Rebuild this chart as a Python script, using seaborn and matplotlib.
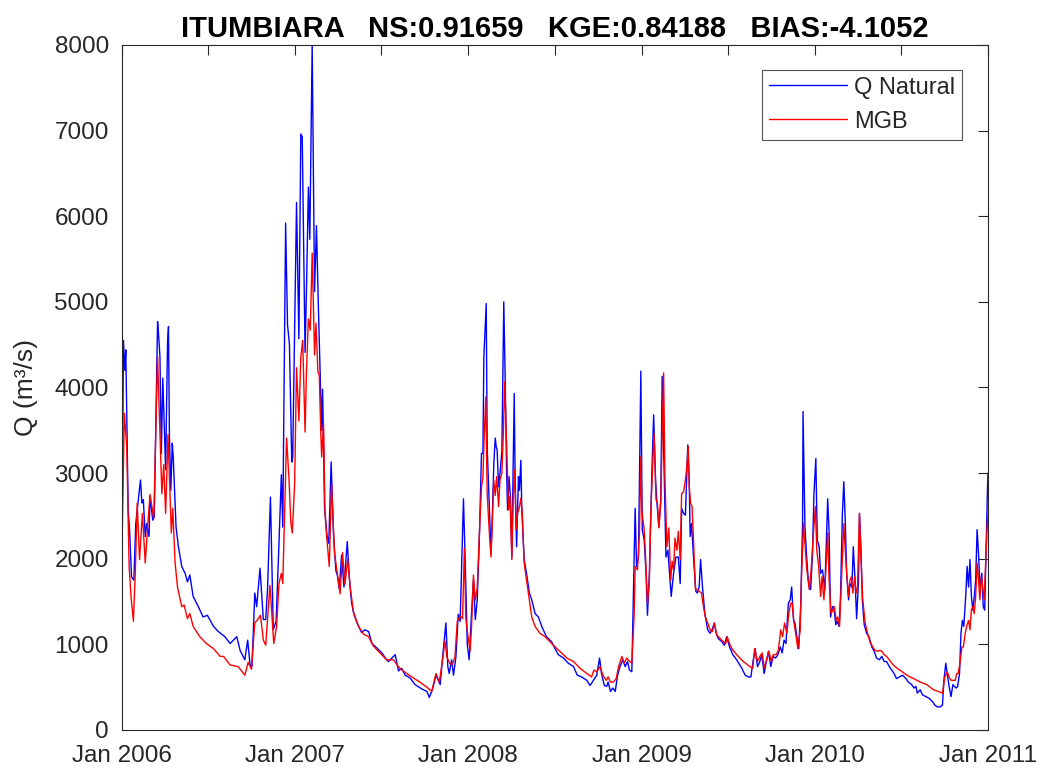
import matplotlib
matplotlib.use("Agg")
import matplotlib.pyplot as plt
import seaborn as sns
import pandas as pd

# ---- data: (day offset from 2006-01-01, discharge m3/s) ----
natural_2006 = [(0, 2140), (3, 4550), (6, 4200), (8, 4440), (13, 2570), (16, 2340), (20, 1790), (25, 1750),
                (29, 2410), (39, 2920), (42, 2650), (45, 2690), (49, 2260), (52, 2410), (57, 2260), (59, 2720),
                (65, 2450), (68, 2490), (75, 4770), (77, 4630), (80, 4360), (83, 3230), (86, 4110), (92, 3040),
                (96, 4520), (98, 4710), (100, 3430), (103, 2800), (106, 3350), (108, 3190), (114, 2370),
                (119, 2140), (126, 1910), (133, 1830), (138, 1730), (143, 1810), (150, 1560), (161, 1440),
                (171, 1320), (180, 1340), (193, 1210), (203, 1150), (217, 1090), (228, 1010), (242, 1090),
                (249, 930), (259, 820), (265, 1050), (270, 760), (274, 740), (280, 1600), (284, 1440),
                (291, 1890), (298, 1290), (303, 1290), (307, 1660), (313, 2720), (319, 1170), (325, 1270),
                (331, 2180), (336, 2980), (339, 2370), (345, 5920), (349, 4730), (353, 4510), (358, 3130),
                (360, 3190)]
natural_2007 = [(368, 6160), (373, 4570), (377, 6960), (380, 6930), (386, 4410), (389, 5150), (393, 6340),
                (396, 5730), (401, 8000), (406, 5120), (410, 5890), (414, 4960), (418, 4140), (421, 3500),
                (423, 3980), (427, 2600), (432, 2280), (436, 2180), (441, 3130), (446, 2280), (451, 1860),
                (454, 1810), (458, 1650), (463, 2040), (468, 1670), (475, 2200), (479, 1810), (484, 1490),
                (489, 1350), (498, 1220), (505, 1140), (512, 1170), (520, 1150), (527, 1010), (537, 960),
                (548, 900), (558, 820), (562, 800), (576, 880), (583, 690), (590, 720), (597, 640),
                (607, 610), (618, 530), (632, 480), (643, 450), (648, 380), (655, 480), (662, 640),
                (671, 530), (676, 850), (683, 1250), (687, 740), (690, 660), (695, 820), (699, 640),
                (704, 850), (709, 1350), (713, 1270), (720, 2700), (724, 1900), (728, 1000)]
natural_2008 = [(732, 820), (737, 1360), (741, 1750), (745, 1290), (749, 1520), (753, 2140), (758, 3230),
                (761, 3230), (763, 4360), (768, 4980), (770, 3310), (775, 2530), (778, 2060), (781, 2530),
                (784, 3110), (787, 3410), (789, 3310), (791, 3270), (794, 2840), (797, 3000), (801, 3250),
                (803, 4090), (805, 5000), (808, 4090), (811, 3000), (813, 2570), (816, 2960), (819, 2730),
                (822, 2020), (827, 3930), (829, 2920), (832, 2140), (836, 2960), (838, 2800), (841, 3150),
                (843, 2570), (848, 1990), (853, 1830), (859, 1600), (864, 1520), (871, 1360), (878, 1320),
                (885, 1210), (895, 1090), (906, 1030), (913, 950), (920, 880), (931, 840), (941, 780),
                (952, 740), (960, 640), (969, 620), (980, 580), (987, 520), (994, 580), (1001, 640),
                (1007, 840), (1011, 660), (1017, 520), (1022, 510), (1025, 560), (1030, 450), (1035, 490),
                (1040, 450), (1045, 640), (1050, 740), (1056, 820), (1061, 740), (1066, 800), (1070, 700),
                (1075, 680), (1078, 1480), (1082, 2590), (1085, 1910), (1089, 2020), (1094, 4190)]
natural_2009 = [(1097, 2340), (1101, 2220), (1105, 1830), (1108, 1340), (1112, 1830), (1117, 2960),
                (1121, 3680), (1125, 2920), (1128, 2650), (1132, 2370), (1136, 2690), (1139, 4130),
                (1143, 3040), (1147, 2020), (1151, 2100), (1154, 1870), (1158, 1560), (1163, 1830),
                (1168, 2020), (1173, 2020), (1177, 1710), (1180, 2590), (1184, 2530), (1188, 2510),
                (1193, 3330), (1196, 2920), (1198, 2260), (1201, 2410), (1205, 2020), (1210, 1620),
                (1213, 1600), (1217, 1670), (1220, 1990), (1224, 1670), (1229, 1360), (1235, 1170),
                (1240, 1130), (1244, 1170), (1249, 1250), (1253, 1130), (1257, 1070), (1265, 1030),
                (1270, 990), (1275, 1090), (1281, 970), (1288, 880), (1296, 820), (1307, 720), (1314, 640),
                (1321, 620), (1326, 620), (1330, 780), (1335, 950), (1340, 740), (1345, 800), (1349, 880),
                (1354, 660), (1358, 780), (1363, 920), (1368, 740), (1373, 860), (1378, 840), (1383, 880),
                (1388, 970), (1392, 900), (1396, 1050), (1400, 1010), (1405, 1480), (1409, 1520),
                (1412, 1670), (1416, 1280), (1419, 1250), (1424, 1050), (1427, 950), (1431, 1440),
                (1435, 2410), (1436, 3720), (1440, 2370), (1444, 1990), (1447, 1750), (1452, 1640),
                (1456, 2060), (1459, 2760)]
natural_2010 = [(1463, 3170), (1466, 2220), (1470, 2140), (1473, 1830), (1477, 1870), (1482, 1640),
                (1488, 2700), (1491, 2300), (1494, 1320), (1498, 1440), (1501, 1440), (1505, 1230),
                (1508, 1270), (1512, 1210), (1515, 1560), (1519, 2530), (1522, 2900), (1525, 2450),
                (1528, 1830), (1532, 1520), (1535, 1710), (1539, 1670), (1542, 2140), (1546, 1710),
                (1549, 1300), (1553, 1750), (1555, 2530), (1558, 2140), (1561, 1520), (1565, 1230),
                (1570, 1130), (1575, 1090), (1581, 970), (1586, 920), (1591, 840), (1597, 820), (1602, 860),
                (1607, 800), (1612, 800), (1618, 740), (1623, 700), (1628, 660), (1633, 600), (1639, 620),
                (1646, 640), (1653, 600), (1658, 560), (1665, 530), (1670, 490), (1674, 510), (1677, 430),
                (1683, 470), (1688, 410), (1695, 390), (1702, 370), (1709, 330), (1714, 290), (1719, 270),
                (1725, 270), (1730, 290), (1733, 580), (1737, 780), (1740, 660), (1744, 510), (1748, 390),
                (1752, 530), (1755, 510), (1759, 490), (1762, 510), (1766, 660), (1769, 1130), (1772, 1280),
                (1775, 1210), (1779, 1560), (1782, 1910), (1785, 1670), (1788, 1990), (1791, 1560),
                (1794, 1400), (1797, 1560), (1800, 1750), (1803, 2340), (1806, 2060), (1809, 1670),
                (1813, 1830), (1816, 1440), (1819, 1400), (1822, 2140), (1825, 2840), (1826, 3000)]

mgb_2006 = [(0, 2140), (5, 3700), (10, 3310), (15, 1910), (19, 1560), (24, 1270), (28, 1830), (32, 2650),
            (37, 1990), (43, 2530), (49, 1950), (54, 2370), (59, 2750), (67, 2470), (75, 4360), (84, 2760),
            (88, 3100), (92, 2530), (97, 3450), (104, 2300), (107, 2590), (112, 1950), (117, 1670),
            (126, 1440), (131, 1460), (138, 1300), (143, 1360), (150, 1210), (164, 1090), (178, 1010),
            (193, 950), (207, 860), (214, 860), (228, 760), (245, 740), (259, 640), (266, 790), (273, 710),
            (280, 1250), (286, 1290), (292, 1340), (298, 1050), (303, 990), (312, 1690), (320, 1010),
            (326, 1210), (331, 1710), (336, 1830), (339, 1710), (347, 3410), (352, 2950), (356, 2420),
            (359, 2300), (364, 2870)]
mgb_2007 = [(368, 4230), (373, 3610), (377, 4350), (381, 4550), (386, 3480), (389, 4190), (393, 4800),
            (397, 4670), (401, 5570), (406, 4380), (409, 4750), (413, 4190), (416, 4140), (419, 3500),
            (421, 3190), (425, 3580), (428, 2550), (432, 2230), (437, 1910), (442, 2870), (448, 2070),
            (454, 1830), (460, 1590), (465, 2070), (470, 1700), (476, 1990), (481, 1670), (488, 1380),
            (498, 1220), (509, 1120), (520, 1090), (530, 980), (544, 900), (558, 820), (572, 820),
            (586, 720), (600, 660), (614, 610), (628, 560), (643, 500), (653, 450), (662, 660), (669, 560),
            (676, 820), (681, 1040), (685, 850), (692, 770), (697, 770), (702, 850), (707, 1270),
            (713, 1330), (718, 1300), (722, 2120), (725, 1300), (729, 1120)]
mgb_2008 = [(734, 920), (737, 1200), (741, 1810), (745, 1520), (749, 1650), (753, 2220), (758, 2840),
            (761, 2940), (763, 3310), (767, 3890), (770, 2760), (775, 2260), (778, 2020), (781, 2450),
            (784, 2920), (787, 2740), (790, 2960), (794, 2610), (797, 2920), (801, 3000), (804, 3460),
            (807, 4070), (810, 3500), (813, 2920), (815, 2570), (818, 2730), (822, 1990), (825, 2730),
            (828, 3040), (831, 2340), (834, 2530), (838, 2600), (841, 2710), (844, 2530), (848, 1950),
            (853, 1750), (859, 1520), (864, 1320), (871, 1210), (881, 1130), (892, 1090), (906, 1010),
            (917, 950), (927, 900), (938, 840), (952, 800), (966, 720), (980, 660), (990, 620), (995, 700),
            (1001, 680), (1008, 740), (1014, 640), (1021, 580), (1025, 620), (1030, 560), (1036, 560),
            (1042, 600), (1047, 740), (1054, 860), (1059, 780), (1064, 840), (1071, 800), (1075, 780),
            (1080, 1360), (1082, 1910), (1087, 1870), (1091, 2300), (1094, 3190)]
mgb_2009 = [(1096, 2570), (1101, 2340), (1104, 2020), (1108, 1480), (1112, 1750), (1115, 2530),
            (1119, 3110), (1122, 3460), (1126, 2690), (1129, 2650), (1132, 2360), (1136, 2650),
            (1139, 3460), (1142, 4170), (1145, 2880), (1149, 2140), (1153, 2360), (1157, 1750),
            (1160, 1970), (1163, 1870), (1166, 2240), (1170, 2100), (1173, 2320), (1177, 1990),
            (1180, 2760), (1184, 2780), (1188, 2920), (1191, 3080), (1194, 3310), (1196, 2840),
            (1199, 2650), (1202, 2610), (1205, 2220), (1209, 1650), (1213, 1640), (1217, 1620),
            (1222, 1600), (1226, 1440), (1230, 1320), (1235, 1250), (1240, 1170), (1245, 1150),
            (1249, 1250), (1254, 1110), (1261, 1070), (1268, 1030), (1273, 1010), (1276, 1090),
            (1281, 1010), (1286, 950), (1296, 880), (1310, 800), (1324, 740), (1330, 720), (1334, 950),
            (1340, 800), (1345, 860), (1350, 900), (1354, 720), (1359, 820), (1364, 920), (1369, 800),
            (1373, 880), (1379, 880), (1384, 930), (1389, 1170), (1393, 1090), (1397, 1250), (1402, 1130),
            (1406, 1360), (1410, 1480), (1413, 1480), (1417, 1250), (1421, 1110), (1425, 950),
            (1430, 1170), (1433, 1830), (1437, 2410), (1440, 2180), (1444, 1870), (1449, 1640),
            (1453, 1870), (1458, 2300)]
mgb_2010 = [(1462, 2610), (1465, 2100), (1469, 1910), (1473, 1560), (1476, 1790), (1480, 1520),
            (1483, 1750), (1488, 2300), (1491, 1750), (1495, 1360), (1499, 1400), (1502, 1440),
            (1506, 1280), (1509, 1320), (1513, 1210), (1516, 1600), (1520, 2140), (1522, 2410),
            (1525, 2100), (1528, 1830), (1532, 1560), (1535, 1750), (1538, 1790), (1541, 1600),
            (1545, 1790), (1548, 1600), (1551, 1670), (1553, 2140), (1555, 2530), (1558, 2020),
            (1562, 1520), (1567, 1250), (1572, 1130), (1577, 1030), (1583, 970), (1588, 930), (1593, 920),
            (1598, 930), (1602, 920), (1607, 880), (1612, 860), (1618, 820), (1623, 780), (1630, 740),
            (1640, 700), (1655, 640), (1669, 600), (1683, 560), (1697, 530), (1711, 470), (1721, 450),
            (1730, 430), (1735, 620), (1740, 680), (1744, 620), (1748, 580), (1753, 580), (1757, 580),
            (1760, 660), (1763, 660), (1767, 780), (1771, 970), (1774, 970), (1778, 1130), (1781, 1210),
            (1785, 1280), (1788, 1170), (1791, 1400), (1794, 1440), (1797, 1360), (1800, 1560),
            (1803, 1950), (1806, 1750), (1809, 1520), (1812, 1790), (1815, 1670), (1818, 1520),
            (1821, 1950), (1824, 2340), (1826, 2550)]

series_names = ["Q Natural", "MGB"]
series_colors = ["#0000FF", "#FF0000"]
title_text = "ITUMBIARA   NS:0.91659   KGE:0.84188   BIAS:-4.1052"
ylabel_text = "Q (m³/s)"
start_date = "2006-01-01"
end_date = "2011-01-01"
y_ticks = [0, 1000, 2000, 3000, 4000, 5000, 6000, 7000, 8000]

# ---- build dataframe ----
rows = []
for name, parts in [("Q Natural", [natural_2006, natural_2007, natural_2008, natural_2009, natural_2010]),
                    ("MGB", [mgb_2006, mgb_2007, mgb_2008, mgb_2009, mgb_2010])]:
    for part in parts:
        for d, q in part:
            rows.append({"date": pd.Timestamp(start_date) + pd.Timedelta(days=d), "Q": q, "serie": name})
df = pd.DataFrame(rows)

sns.set_theme(style="white")
plt.rcParams["font.family"] = ["Liberation Sans", "DejaVu Sans"]

fig = plt.figure(figsize=(10.45, 7.75), dpi=100)
ax = fig.add_axes([122 / 1045, 45 / 775, (988 - 122) / 1045, (730 - 45) / 775])

sns.lineplot(data=df, x="date", y="Q", hue="serie", hue_order=series_names,
             palette=dict(zip(series_names, series_colors)), estimator=None, sort=False,
             linewidth=1.0, ax=ax)

ax.set_xlim(pd.Timestamp(start_date), pd.Timestamp(end_date))
ax.set_ylim(0, 8000)
ax.set_yticks(y_ticks)
ax.set_yticklabels([str(v) for v in y_ticks])
xt = pd.date_range(start_date, end_date, freq="6MS")
ax.set_xticks(xt)
ax.set_xticklabels([d.strftime("Jan %Y") if d.month == 1 else "" for d in xt])

ax.tick_params(axis="both", direction="in", top=True, right=True, length=7, width=0.8,
               colors="#262626", labelsize=17.5, labelcolor="#262626")
ax.tick_params(axis="x", pad=11)
ax.tick_params(axis="y", pad=9.5)
for s in ax.spines.values():
    s.set_visible(True)
    s.set_color("#262626")
    s.set_linewidth(0.8)

ax.set_xlabel("")
ax.set_ylabel(ylabel_text, fontsize=19, color="#262626", labelpad=12)
ax.set_title(title_text, fontsize=21, fontweight="bold", color="black", pad=6)

leg = ax.legend(loc="upper right", bbox_to_anchor=(0.970, 0.964), fontsize=17, frameon=True,
                fancybox=False, edgecolor="#262626", handlelength=3.3, borderpad=0.3,
                labelspacing=0.5, handletextpad=0.3, borderaxespad=0)
leg.get_frame().set_linewidth(0.8)

fig.savefig("out.png", dpi=100, facecolor="white")
